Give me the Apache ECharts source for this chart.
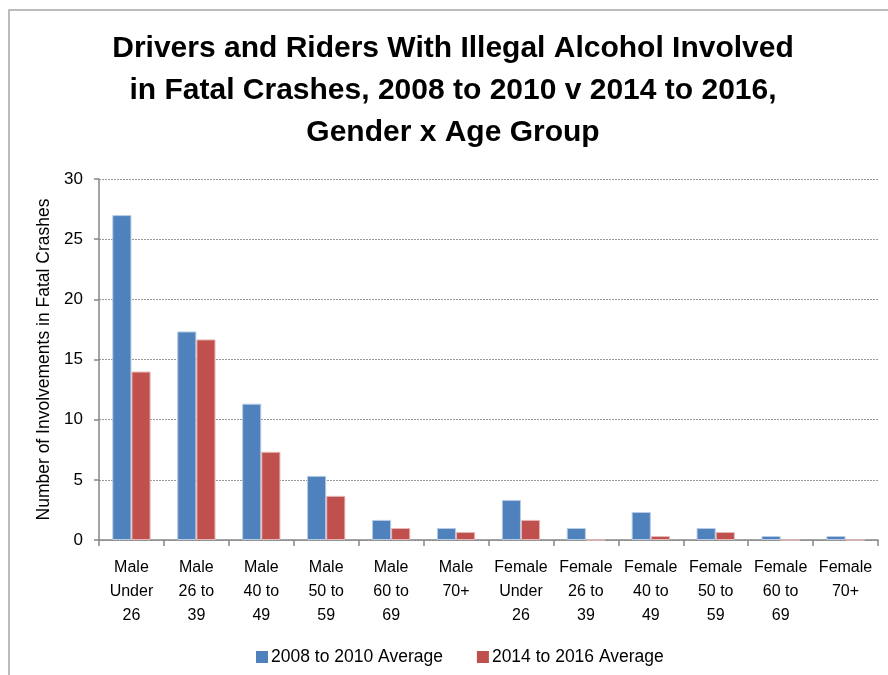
<!DOCTYPE html>
<html>
<head>
<meta charset="utf-8">
<script src="https://cdn.jsdelivr.net/npm/echarts@6/dist/echarts.min.js"></script>
<style>html,body{margin:0;padding:0;background:#fff;}#c{width:888px;height:675px;}</style>
</head>
<body>
<div id="c"></div>
<script>
const categories = ['Male\nUnder\n26','Male\n26 to\n39','Male\n40 to\n49','Male\n50 to\n59','Male\n60 to\n69','Male\n70+','Female\nUnder\n26','Female\n26 to\n39','Female\n40 to\n49','Female\n50 to\n59','Female\n60 to\n69','Female\n70+'];
const avg2008to2010 = [27.0, 17.33, 11.33, 5.33, 1.67, 1.0, 3.33, 1.0, 2.33, 1.0, 0.33, 0.33];
const avg2014to2016 = [14.0, 16.67, 7.33, 3.67, 1.0, 0.67, 1.67, 0, 0.33, 0.67, 0, 0];
const seriesNames = ['2008 to 2010 Average', '2014 to 2016 Average'];
const titleText = 'Drivers and Riders With Illegal Alcohol Involved\nin Fatal Crashes, 2008 to 2010 v 2014 to 2016,\nGender x Age Group';
const yAxisName = 'Number of Involvements in Fatal Crashes';

const FONT = '"Liberation Sans", Arial, sans-serif';
const chart = echarts.init(document.getElementById('c'), null, {renderer: 'canvas'});
chart.setOption({
  animation: false,
  backgroundColor: '#fff',
  textStyle: {fontFamily: FONT},
  graphic: [
    {type: 'polyline', shape: {points: [[9, 675], [9, 10], [888, 10]]}, style: {stroke: '#a6a6a6', lineWidth: 1.5, fill: null}, silent: true}
  ],
  title: {
    text: titleText,
    left: 448, top: 23, textAlign: 'center',
    textStyle: {fontFamily: FONT, fontWeight: 'bold', fontSize: 30, lineHeight: 42, color: '#000'}
  },
  legend: {
    data: seriesNames,
    bottom: 4, left: 251,
    itemWidth: 12, itemHeight: 12, itemGap: 34,
    icon: 'rect',
    itemStyle: {borderWidth: 0},
    textStyle: {fontFamily: FONT, fontSize: 17.5, color: '#000', padding: [0,0,0,-2]}
  },
  grid: {left: 99, right: 10, top: 179, bottom: 135, containLabel: false},
  xAxis: {
    type: 'category',
    data: categories,
    axisLine: {lineStyle: {color: '#868686', width: 1.5}},
    axisTick: {show: true, length: 6, lineStyle: {color: '#868686', width: 1.5}, alignWithLabel: false},
    axisLabel: {fontFamily: FONT, fontSize: 16, color: '#000', lineHeight: 24, margin: 16, interval: 0}
  },
  yAxis: {
    type: 'value', min: 0, max: 30, interval: 5,
    name: yAxisName, nameLocation: 'middle', nameGap: 44, nameRotate: 90,
    nameTextStyle: {fontFamily: FONT, fontSize: 17.5, color: '#000'},
    axisLine: {show: true, lineStyle: {color: '#868686', width: 1.5}},
    axisTick: {show: true, length: 5, inside: false, lineStyle: {color: '#868686', width: 1.5}},
    axisLabel: {fontFamily: FONT, fontSize: 17, color: '#000', margin: 16},
    splitLine: {show: true, lineStyle: {color: '#999999', type: [2, 1], width: 1}}
  },
  series: [
    {name: seriesNames[0], type: 'bar', data: avg2008to2010, barGap: '0%', barCategoryGap: '41%',
     itemStyle: {color: '#4F81BD', borderColor: '#b8cce4', borderWidth: 1}},
    {name: seriesNames[1], type: 'bar', data: avg2014to2016,
     itemStyle: {color: '#C0504D', borderColor: '#e6b9b8', borderWidth: 1}}
  ]
});
</script>
</body>
</html>
